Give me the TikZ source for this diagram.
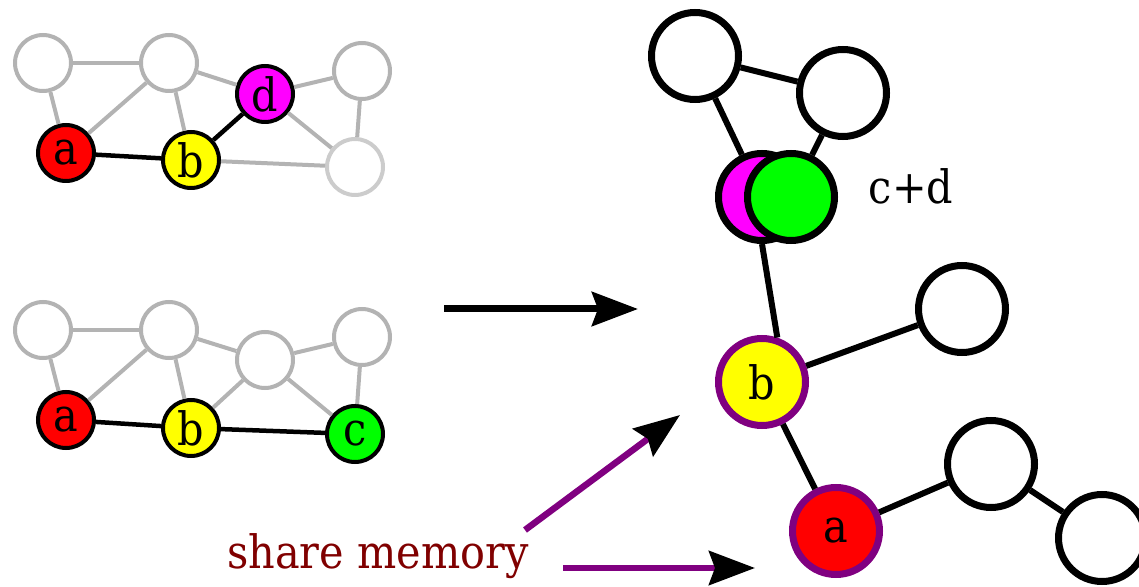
\documentclass[tikz,border=0pt]{standalone}
\usepackage{fontspec}
\setmainfont[FakeStretch=0.9]{DejaVu Serif}
\usetikzlibrary{arrows.meta}

\definecolor{lgray}{RGB}{179,179,179}
\definecolor{llgray}{RGB}{204,204,204}
\definecolor{memred}{RGB}{128,0,0}
\definecolor{mempurple}{RGB}{128,0,128}
\definecolor{nodered}{RGB}{255,0,0}
\definecolor{nodeyellow}{RGB}{255,255,0}
\definecolor{nodegreen}{RGB}{0,255,0}
\definecolor{nodemagenta}{RGB}{255,0,255}

\begin{document}
\begin{tikzpicture}[x=0.5pt,y=-0.5pt,
  small/.style={circle,draw=black,line width=2pt,minimum size=28pt,inner sep=0pt,font=\fontsize{23}{23}\selectfont},
  faded/.style={small,draw=lgray},
  big/.style={circle,draw=black,line width=3.5pt,minimum size=43.5pt,inner sep=0pt,font=\fontsize{23}{23}\selectfont},
  shared/.style={big,draw=mempurple},
  grayedge/.style={lgray,line width=2pt},
  blackedge/.style={black,line width=2.25pt},
  thickedge/.style={black,line width=3pt},
  tip/.style={-{Stealth[length=23pt,width=17pt,inset=3pt,black]}}
]
\useasboundingbox (0,0) rectangle (1139,587);

% first graph, a-b-d
\node[faded] (t1) at (43,63) {};
\node[faded] (t2) at (169,63) {};
\node[faded] (t4) at (362,71) {};
\node[faded,draw=llgray] (t5) at (355,167) {};
\node[small,fill=nodered] (ta) at (66,153) {a};
\node[small,fill=nodeyellow] (tb) at (191,160) {b};
\node[small,fill=nodemagenta] (td) at (265,94) {d};
\foreach \u/\v in {t1/t2,t1/ta,t2/ta,t2/tb,t2/td,td/t4,td/t5,t4/t5,tb/t5}
  \draw[grayedge] (\u) -- (\v);
\draw[blackedge] (ta) -- (tb);
\draw[blackedge] (tb) -- (td);

% second graph, a-b-c
\node[faded] (s1) at (43,330) {};
\node[faded] (s2) at (169,330) {};
\node[faded] (s3) at (265,360) {};
\node[faded] (s4) at (362,337) {};
\node[small,fill=nodered] (sa) at (66,420) {a};
\node[small,fill=nodeyellow] (sb) at (191,428) {b};
\node[small,fill=nodegreen] (sc) at (355,434) {c};
\foreach \u/\v in {s1/s2,s1/sa,s2/sa,s2/sb,s2/s3,s3/s4,s3/sb,s3/sc,s4/sc}
  \draw[grayedge] (\u) -- (\v);
\draw[blackedge] (sa) -- (sb);
\draw[blackedge] (sb) -- (sc);

% merge
\coordinate (from) at (444,309);
\coordinate (to) at (638,309);
\draw[line width=3.5pt,tip] (from) -- (to);

% merged graph
\node[big] (m1) at (695,56) {};
\node[big] (m2) at (843,93) {};
\node[big,fill=nodemagenta] (md) at (762,197) {};
\node[big,fill=nodegreen] (mc) at (791,197) {};
\node[anchor=base,font=\fontsize{23}{23}\selectfont] (cd) at (911,204) {c+d};
\node[shared,fill=nodeyellow] (mb) at (762,382) {b};
\node[big] (m3) at (962,309) {};
\node[shared,fill=nodered] (ma) at (836,531) {a};
\node[big] (m4) at (991,464) {};
\node[big] (m5) at (1102,538) {};
\draw[thickedge] (m1) -- (m2);
\draw[thickedge] (m1) -- (md);
\draw[thickedge] (m2) -- (mc);
\draw[thickedge] (md.south) -- (mb.71);
\draw[thickedge] (mb) -- (m3);
\draw[thickedge] (mb) -- (ma);
\draw[thickedge] (ma) -- (m4);
\draw[thickedge] (m4) -- (m5);

% shared nodes
\node[anchor=base,text=memred,font=\fontsize{23}{23}\selectfont] (share) at (378,568) {share memory};
\coordinate (p1) at (525,530);
\coordinate (q1) at (680,415);
\coordinate (p2) at (563,568);
\coordinate (q2) at (755,568);
\draw[mempurple,line width=3.25pt,tip] (p1) -- (q1);
\draw[mempurple,line width=3.25pt,tip] (p2) -- (q2);
\end{tikzpicture}
\end{document}
